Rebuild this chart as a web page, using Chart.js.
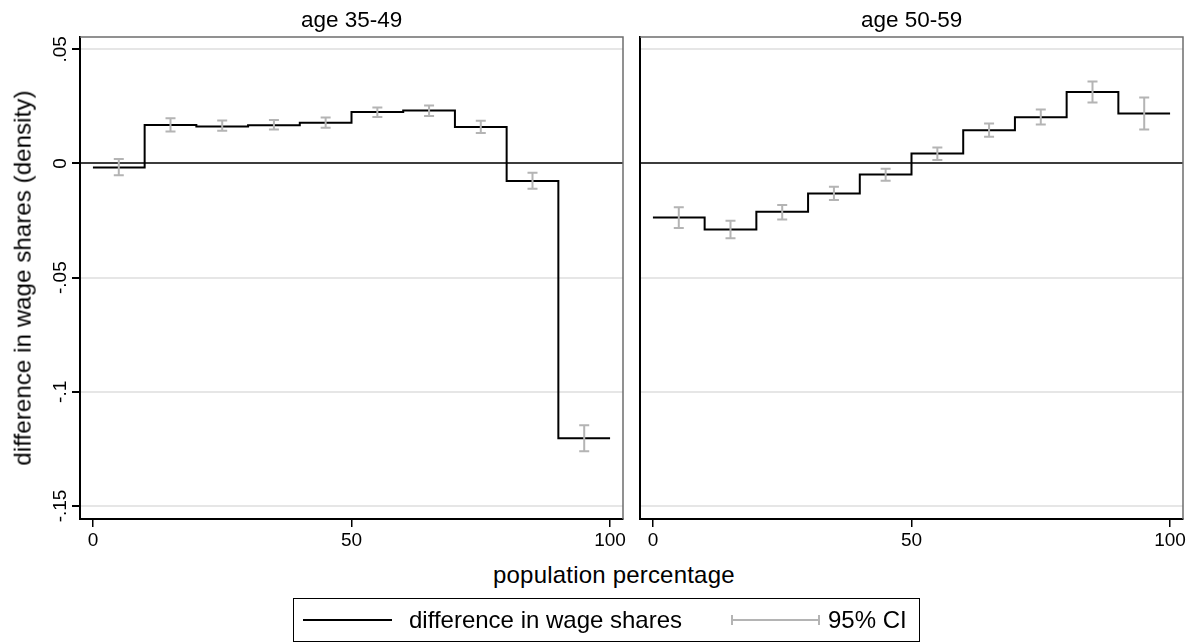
<!DOCTYPE html>
<html>
<head>
<meta charset="utf-8">
<script src="https://cdn.jsdelivr.net/npm/chart.js@4.4.0/dist/chart.umd.min.js"></script>
<style>
  body { margin: 0; background: #fff; font-family: "Liberation Sans", Arial, sans-serif; }
  #wrap { position: relative; width: 1195px; height: 643px; overflow: hidden; }
  canvas { position: absolute; top: 0; }
  .txt { position: absolute; white-space: nowrap; color: #000; }
  #legend { position: absolute; left: 293px; top: 598px; width: 627px; height: 44px; border: 1.5px solid #000; box-sizing: border-box; }
</style>
</head>
<body>
<div id="wrap">
  <canvas id="left" width="630" height="560" style="left:0"></canvas>
  <canvas id="right" width="565" height="560" style="left:630px"></canvas>
  <div class="txt" id="t1" style="font-size:22.5px;top:7px;">age 35-49</div>
  <div class="txt" id="t2" style="font-size:22.5px;top:7px;">age 50-59</div>
  <div class="txt" id="ytitle" style="font-size:24px;letter-spacing:0.1px;">difference in wage shares (density)</div>
  <div class="txt" id="xtitle" style="font-size:24px;top:561px;letter-spacing:0.2px;">population percentage</div>
  <div id="legend"><canvas id="leg" width="627" height="44" style="left:-1.5px;top:-1.5px"></canvas></div>
</div>
<script>
// bin midpoints (population percentage)
const pctMid = [5, 15, 25, 35, 45, 55, 65, 75, 85, 95];
const xTicks = [0, 50, 100];
const yTicks = [0.05, 0, -0.05, -0.1, -0.15];
const yTickLabels = [".05", "0", "-.05", "-.1", "-.15"];
const panelTitles = ["age 35-49", "age 50-59"];

// age 35-49
const diffA = [-0.0018, 0.0169, 0.0162, 0.0168, 0.0178, 0.0225, 0.0232, 0.0160, -0.0077, -0.1203];
const loA   = [-0.0052, 0.0140, 0.0143, 0.0149, 0.0156, 0.0204, 0.0208, 0.0134, -0.0111, -0.1260];
const hiA   = [ 0.0020, 0.0198, 0.0188, 0.0190, 0.0201, 0.0245, 0.0254, 0.0187, -0.0041, -0.1146];

// age 50-59
const diffB = [-0.0236, -0.0289, -0.0211, -0.0131, -0.0048, 0.0044, 0.0146, 0.0203, 0.0313, 0.0219];
const loB   = [-0.0283, -0.0327, -0.0245, -0.0160, -0.0076, 0.0015, 0.0117, 0.0171, 0.0267, 0.0149];
const hiB   = [-0.0192, -0.0251, -0.0182, -0.0102, -0.0023, 0.0070, 0.0175, 0.0236, 0.0359, 0.0289];

const FONT = '"Liberation Sans", Arial, sans-serif';
const CI_COLOR = "#b4b4b4";

// step line points: each bin starts at (mid - 5), last one closes at 100
function stepPoints(vals) {
    const pts = vals.map((v, i) => ({ x: pctMid[i] - 5, y: v }));
    pts.push({ x: pctMid[pctMid.length - 1] + 5, y: vals[vals.length - 1] });
    return pts;
}

// draws the rcap error bars, the plot frame and the rotated y labels
const ciPlugin = {
    id: "ci",
    beforeDatasetsDraw(chart) {
        const { ctx, chartArea: a } = chart;
        ctx.save();
        ctx.strokeStyle = "#6e6e6e";
        ctx.lineWidth = 1.5;
        ctx.beginPath();
        ctx.moveTo(a.left, a.top);
        ctx.lineTo(a.right, a.top);
        ctx.lineTo(a.right, a.bottom);
        ctx.stroke();
        ctx.restore();
    },
    afterDatasetsDraw(chart, args, opts) {
        const { ctx, scales: { x, y } } = chart;
        ctx.save();
        ctx.strokeStyle = CI_COLOR;
        ctx.lineWidth = 2;
        pctMid.forEach((m, i) => {
            const px = x.getPixelForValue(m);
            const p1 = y.getPixelForValue(opts.lo[i]);
            const p2 = y.getPixelForValue(opts.hi[i]);
            ctx.beginPath();
            ctx.moveTo(px, p1); ctx.lineTo(px, p2);
            ctx.moveTo(px - 5, p1); ctx.lineTo(px + 5, p1);
            ctx.moveTo(px - 5, p2); ctx.lineTo(px + 5, p2);
            ctx.stroke();
        });
        ctx.restore();
    },
    afterDraw(chart, args, opts) {
        if (!opts.labels) return;
        const { ctx, scales: { y } } = chart;
        ctx.save();
        ctx.font = "19px " + FONT;
        ctx.fillStyle = "#000";
        ctx.textAlign = "center";
        ctx.textBaseline = "alphabetic";
        yTicks.forEach((v, i) => {
            ctx.save();
            ctx.translate(66, y.getPixelForValue(v));
            ctx.rotate(-Math.PI / 2);
            ctx.fillText(yTickLabels[i], 0, 0);
            ctx.restore();
        });
        ctx.restore();
    }
};

function makePanel(id, vals, lo, hi, yWidth, padRight, withLabels) {
    return new Chart(document.getElementById(id), {
        type: "line",
        data: {
            datasets: [{
                data: stepPoints(vals),
                borderColor: "#000",
                borderWidth: 2,
                pointRadius: 0,
                stepped: "before",
                fill: false
            }]
        },
        options: {
            responsive: false,
            animation: false,
            layout: { padding: { top: 37, right: padRight, left: 0, bottom: 0 } },
            scales: {
                x: {
                    type: "linear",
                    min: -2.5,
                    max: 102.5,
                    afterBuildTicks: s => { s.ticks = xTicks.map(v => ({ value: v })); },
                    afterFit: s => { s.height = 41; },
                    grid: { drawOnChartArea: false, tickLength: 8, color: "#000", lineWidth: 1.5 },
                    border: { color: "#000", width: 2 },
                    ticks: { font: { family: FONT, size: 19 }, color: "#000", padding: 2, maxRotation: 0 }
                },
                y: {
                    min: -0.1557,
                    max: 0.0554,
                    afterBuildTicks: s => { s.ticks = yTicks.map(v => ({ value: v })); },
                    afterFit: s => { s.width = yWidth; },
                    grid: {
                        color: c => c.tick && c.tick.value === 0 ? "#3c3c3c" : "#e6e6e6",
                        lineWidth: 2,
                        tickColor: "#000",
                        tickLength: withLabels ? 8 : 0,
                        drawTicks: withLabels
                    },
                    border: { color: "#000", width: 2 },
                    ticks: { display: false }
                }
            },
            plugins: {
                legend: { display: false },
                tooltip: { enabled: false },
                ci: { lo: lo, hi: hi, labels: withLabels }
            }
        },
        plugins: [ciPlugin]
    });
}

const chartA = makePanel("left", diffA, loA, hiA, 80, 7, true);
const chartB = makePanel("right", diffB, loB, hiB, 10, 12, false);

// place panel titles and axis titles relative to the chart areas
function centerText(el, cx) {
    el.style.left = (cx - el.offsetWidth / 2) + "px";
}
const t1 = document.getElementById("t1");
const t2 = document.getElementById("t2");
t1.textContent = panelTitles[0];
t2.textContent = panelTitles[1];
centerText(t1, (chartA.chartArea.left + chartA.chartArea.right) / 2);
centerText(t2, 630 + (chartB.chartArea.left + chartB.chartArea.right) / 2);
centerText(document.getElementById("xtitle"), 614);

const yt = document.getElementById("ytitle");
const ac = (chartA.chartArea.top + chartA.chartArea.bottom) / 2;
yt.style.left = (22 - yt.offsetWidth / 2) + "px";
yt.style.top = (ac - yt.offsetHeight / 2) + "px";
yt.style.transform = "rotate(-90deg)";

// legend
const lc = document.getElementById("leg").getContext("2d");
lc.font = "24px " + FONT;
lc.fillStyle = "#000";
lc.textBaseline = "middle";
lc.strokeStyle = "#000";
lc.lineWidth = 2;
lc.beginPath(); lc.moveTo(10, 22); lc.lineTo(99, 22); lc.stroke();
lc.fillText("difference in wage shares", 116, 23);
lc.strokeStyle = CI_COLOR;
lc.beginPath();
lc.moveTo(439, 22); lc.lineTo(526, 22);
lc.moveTo(439, 17); lc.lineTo(439, 27);
lc.moveTo(526, 17); lc.lineTo(526, 27);
lc.stroke();
lc.fillText("95% CI", 535, 23);
</script>
</body>
</html>
